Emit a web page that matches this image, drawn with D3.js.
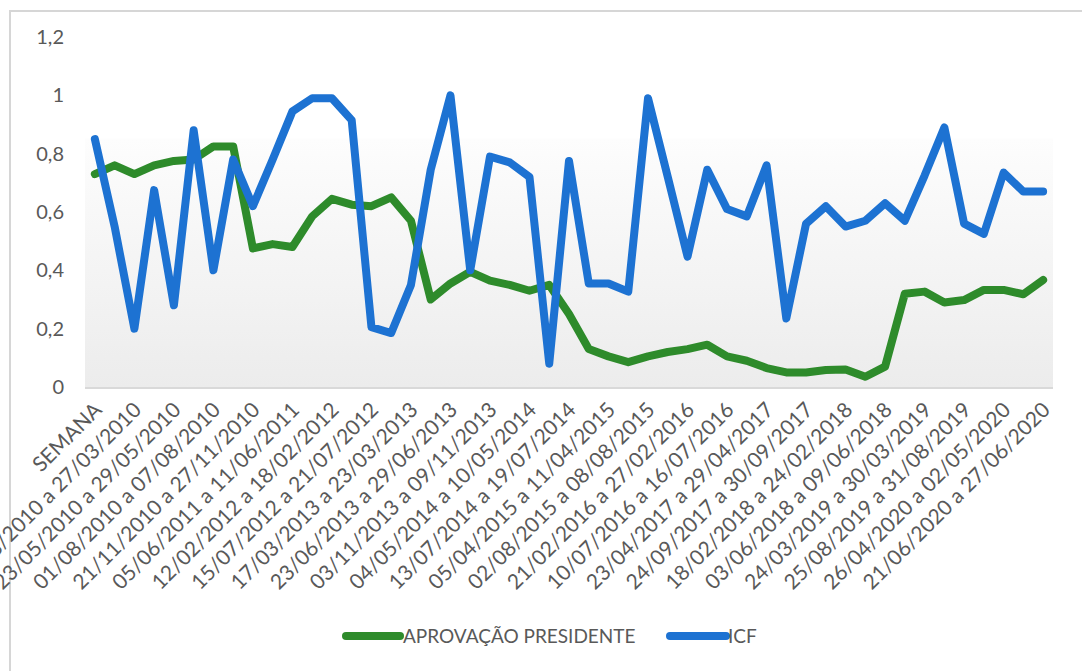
<!DOCTYPE html>
<html>
<head>
<meta charset="utf-8">
<script src="https://cdn.jsdelivr.net/npm/d3@7"></script>
<style>
  html, body { margin: 0; padding: 0; background: #ffffff; }
  svg { display: block; }
</style>
</head>
<body>
<svg id="chart" width="1082" height="671"></svg>
<script>
// Weekly series: presidential approval vs. ICF (49 weeks)
const aprovacaoPresidente = [
  0.73, 0.76, 0.73, 0.76, 0.775, 0.78, 0.825, 0.825, 0.475, 0.49,
  0.48, 0.585, 0.645, 0.625, 0.62, 0.65, 0.57, 0.30, 0.355, 0.395,
  0.365, 0.35, 0.33, 0.35, 0.25, 0.13, 0.105, 0.085, 0.105, 0.12,
  0.13, 0.145, 0.105, 0.09, 0.065, 0.05, 0.05, 0.058, 0.06, 0.035,
  0.07, 0.32, 0.327, 0.29, 0.298, 0.333, 0.333, 0.318, 0.367
];
const icf = [
  0.85, 0.55, 0.20, 0.675, 0.28, 0.88, 0.40, 0.78, 0.62, 0.78,
  0.945, 0.99, 0.99, 0.915, 0.205, 0.185, 0.35, 0.745, 1.0, 0.40,
  0.79, 0.77, 0.72, 0.08, 0.775, 0.355, 0.355, 0.327, 0.99, 0.72,
  0.447, 0.745, 0.61, 0.585, 0.76, 0.235, 0.56, 0.62, 0.55, 0.57,
  0.63, 0.57, 0.725, 0.89, 0.56, 0.525, 0.735, 0.67, 0.67
];
// Labels shown on every second week
const xTickLabels = [
  "SEMANA",
  "21/03/2010 a 27/03/2010",
  "23/05/2010 a 29/05/2010",
  "01/08/2010 a 07/08/2010",
  "21/11/2010 a 27/11/2010",
  "05/06/2011 a 11/06/2011",
  "12/02/2012 a 18/02/2012",
  "15/07/2012 a 21/07/2012",
  "17/03/2013 a 23/03/2013",
  "23/06/2013 a 29/06/2013",
  "03/11/2013 a 09/11/2013",
  "04/05/2014 a 10/05/2014",
  "13/07/2014 a 19/07/2014",
  "05/04/2015 a 11/04/2015",
  "02/08/2015 a 08/08/2015",
  "21/02/2016 a 27/02/2016",
  "10/07/2016 a 16/07/2016",
  "23/04/2017 a 29/04/2017",
  "24/09/2017 a 30/09/2017",
  "18/02/2018 a 24/02/2018",
  "03/06/2018 a 09/06/2018",
  "24/03/2019 a 30/03/2019",
  "25/08/2019 a 31/08/2019",
  "26/04/2020 a 02/05/2020",
  "21/06/2020 a 27/06/2020"
];
const yTicks = [0, 0.2, 0.4, 0.6, 0.8, 1, 1.2];
const seriesNames = ["APROVAÇÃO PRESIDENTE", "ICF"];
const seriesColors = ["#2e8b2b", "#1d72d2"];

const svg = d3.select("#chart");
const W = 1082, H = 671;
const plot = { left: 85, right: 1053, top: 37, bottom: 387 };
const font = "Lato, 'Open Sans', sans-serif";
const textColor = "#595959";

const ptBR = d3.formatLocale({ decimal: ",", thousands: ".", grouping: [3], currency: ["R$", ""] });
const fmt = ptBR.format("~g");

const x = d3.scalePoint()
  .domain(d3.range(icf.length))
  .range([plot.left, plot.right])
  .padding(0.5);
const y = d3.scaleLinear().domain([0, 1.2]).range([plot.bottom, plot.top]);

// outer frame edges
svg.append("path")
  .attr("d", `M10,${H} L10,11 L${W},11`)
  .attr("fill", "none")
  .attr("stroke", "#d6d6d6")
  .attr("stroke-width", 2);

// plot area shading
const defs = svg.append("defs");
const grad = defs.append("linearGradient")
  .attr("id", "plotShade").attr("x1", 0).attr("y1", 0).attr("x2", 0).attr("y2", 1);
grad.append("stop").attr("offset", "0%").attr("stop-color", "#fdfdfd");
grad.append("stop").attr("offset", "100%").attr("stop-color", "#ececec");
const shadeTop = plot.top + (plot.bottom - plot.top) * 0.29;
svg.append("rect")
  .attr("x", plot.left).attr("y", shadeTop)
  .attr("width", plot.right - plot.left).attr("height", plot.bottom - shadeTop)
  .attr("fill", "url(#plotShade)");

// category axis line
svg.append("line")
  .attr("x1", plot.left).attr("x2", plot.right)
  .attr("y1", plot.bottom + 1).attr("y2", plot.bottom + 1)
  .attr("stroke", "#d9d9d9").attr("stroke-width", 2);

// value axis labels
const yAxis = d3.axisLeft(y).tickValues(yTicks).tickFormat(fmt).tickSize(0).tickPadding(0);
const gy = svg.append("g").attr("transform", "translate(64,0)").call(yAxis);
gy.select(".domain").remove();
gy.selectAll("text")
  .attr("font-family", font).attr("font-size", 20).attr("fill", textColor);

// category labels, every second week
const gx = svg.append("g");
gx.selectAll("text")
  .data(xTickLabels)
  .join("text")
  .attr("transform", (d, i) => `translate(${x(i * 2) + 3},${plot.bottom + 19}) rotate(-45)`)
  .attr("text-anchor", "end")
  .attr("dy", "0.35em")
  .attr("font-family", font).attr("font-size", 21).attr("fill", textColor)
  .text(d => d);

// series lines
const line = d3.line().x((d, i) => x(i)).y(d => y(d));
[aprovacaoPresidente, icf].forEach((s, k) => {
  svg.append("path")
    .datum(s)
    .attr("d", line)
    .attr("fill", "none")
    .attr("stroke", seriesColors[k])
    .attr("stroke-width", 8)
    .attr("stroke-linejoin", "round")
    .attr("stroke-linecap", "round");
});

// legend
const legendItems = [
  { name: seriesNames[0], color: seriesColors[0], x1: 346, x2: 400, tx: 403 },
  { name: seriesNames[1], color: seriesColors[1], x1: 670, x2: 726, tx: 728 }
];
const legendY = 636;
const lg = svg.append("g");
legendItems.forEach(it => {
  lg.append("line")
    .attr("x1", it.x1).attr("x2", it.x2).attr("y1", legendY).attr("y2", legendY)
    .attr("stroke", it.color).attr("stroke-width", 8).attr("stroke-linecap", "round");
  lg.append("text")
    .attr("x", it.tx).attr("y", legendY).attr("dy", "0.35em")
    .attr("font-family", font).attr("font-size", 19).attr("fill", textColor)
    .text(it.name);
});
</script>
</body>
</html>
